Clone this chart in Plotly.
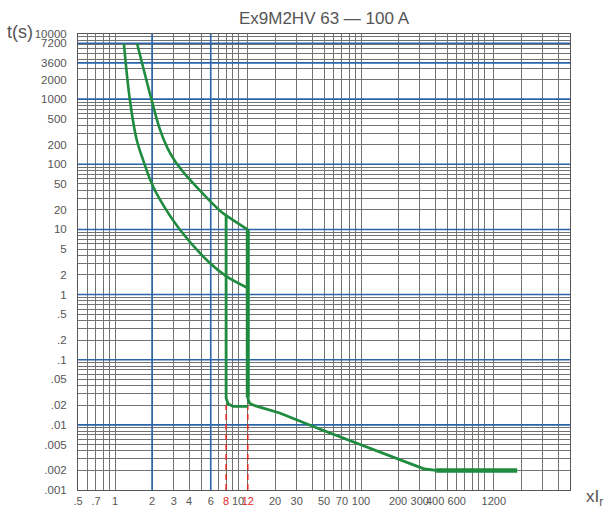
import math
import plotly.graph_objects as go

title_text = "Ex9M2HV 63 — 100 A"

# axis tick labels
x_tick_vals = [0.5, 0.7, 1, 2, 3, 4, 6, 8, 10, 12, 20, 30, 50, 70, 100, 200, 300, 400, 600, 1200]
x_tick_text = [".5", ".7", "1", "2", "3", "4", "6", "8", "10", "12", "20", "30", "50", "70",
               "100", "200", "300", "400", "600", "1200"]
x_red_labels = ["8", "12"]

y_tick_vals = [10000, 7200, 3600, 2000, 1000, 500, 200, 100, 50, 20, 10, 5, 2, 1,
               0.5, 0.2, 0.1, 0.05, 0.02, 0.01, 0.005, 0.002, 0.001]
y_tick_text = ["10000", "7200", "3600", "2000", "1000", "500", "200", "100", "50", "20", "10",
               "5", "2", "1", ".5", ".2", ".1", ".05", ".02", ".01", ".005", ".002", ".001"]

# emphasised (blue) grid lines
blue_y = [7200, 3600, 1000, 100, 10, 1, 0.1, 0.01]
blue_x = [2, 6]
x_limits = [0.5, 5000]
y_limits = [0.001, 10000]

# magnetic thresholds (red dashed markers)
mag_thresholds = [8, 12]
mag_marker_t = [0.001, 0.02]

# lower thermal curve (cold, min)
lower_x = [1.18, 1.32, 1.50, 1.69, 1.98, 2.32, 3.37, 5.9, 8.0, 12.0]
lower_t = [7200, 980, 238, 117, 51.6, 28.6, 9.9, 3.05, 1.92, 1.26]

# upper thermal curve (max)
upper_x = [1.51, 1.98, 2.32, 2.67, 3.07, 3.53, 4.06, 7.1, 8.0, 12.0]
upper_t = [7200, 980, 340, 177, 112, 79, 58, 19.5, 16.4, 9.9]

# magnetic release at 8 xIr
mag8_x = [8.0, 8.0, 8.3, 9.1, 12.0]
mag8_t = [16.4, 0.026, 0.021, 0.0192, 0.0192]

# magnetic release at 12 xIr
mag12_x = [12.0, 12.0]
mag12_t = [9.9, 0.026]

# instantaneous tail
tail_x = [12.0, 12.4, 13.7, 21.8, 46, 141, 328, 408]
tail_t = [0.026, 0.0215, 0.0197, 0.0152, 0.00863, 0.0039, 0.0021, 0.002]
flat_x = [408, 1860]
flat_t = [0.002, 0.002]

GREEN = "#1f8b3f"
GRID = "#737373"
BLUE = "#2a64aa"
RED = "#e0281e"
TXT = "#555555"

fig = go.Figure()

# blue emphasis grid lines (drawn first, under the curves)
for yv in blue_y:
    fig.add_trace(go.Scatter(x=x_limits, y=[yv, yv], mode="lines",
                             line=dict(color=BLUE, width=1.6),
                             showlegend=False, hoverinfo="skip", cliponaxis=True))
for xv in blue_x:
    fig.add_trace(go.Scatter(x=[xv, xv], y=y_limits, mode="lines",
                             line=dict(color=BLUE, width=1.6),
                             showlegend=False, hoverinfo="skip", cliponaxis=True))

for xv in mag_thresholds:
    fig.add_trace(go.Scatter(x=[xv, xv], y=mag_marker_t, mode="lines",
                             line=dict(color=RED, width=1.5, dash="6px,4px"),
                             showlegend=False, hoverinfo="skip"))

for xs, ts, w, shp in [
    (lower_x, lower_t, 2.6, "spline"),
    (upper_x, upper_t, 2.6, "spline"),
    (mag8_x, mag8_t, 2.8, "linear"),
    (mag12_x, mag12_t, 4.0, "linear"),
    (tail_x, tail_t, 2.8, "linear"),
    (flat_x, flat_t, 4.5, "linear"),
]:
    fig.add_trace(go.Scatter(x=xs, y=ts, mode="lines",
                             line=dict(color=GREEN, width=w, shape=shp),
                             showlegend=False, hoverinfo="skip"))

x_text = [f'<span style="color:{RED}">{t}</span>' if t in x_red_labels else t for t in x_tick_text]

fig.update_layout(
    width=604, height=512,
    margin=dict(l=78, r=34, t=34, b=22, autoexpand=False),
    paper_bgcolor="white", plot_bgcolor="white",
    font=dict(family="Liberation Sans, Arial, sans-serif", color=TXT, size=12),
    title=dict(text=title_text, xref="paper", x=0.5, xanchor="center",
               yref="container", y=1 - 18 / 512, yanchor="middle",
               font=dict(size=17, color=TXT)),
    xaxis=dict(type="log", range=[math.log10(x_limits[0]), math.log10(x_limits[1])],
               tickvals=x_tick_vals, ticktext=x_text, ticks="", tickangle=0,
               automargin=False,
               showgrid=True, gridcolor=GRID, gridwidth=1,
               minor=dict(dtick="D1", showgrid=True, gridcolor=GRID, gridwidth=1, ticks=""),
               showline=True, linecolor="#555555", linewidth=1, mirror=True,
               tickfont=dict(size=11, color=TXT), ticklabelstandoff=1, zeroline=False),
    yaxis=dict(type="log", range=[math.log10(y_limits[0]), math.log10(y_limits[1])],
               tickvals=y_tick_vals, ticktext=y_tick_text, ticks="",
               automargin=False,
               showgrid=True, gridcolor=GRID, gridwidth=1,
               minor=dict(dtick="D1", showgrid=True, gridcolor=GRID, gridwidth=1, ticks=""),
               showline=True, linecolor="#555555", linewidth=1, mirror=True,
               tickfont=dict(size=11.5, color=TXT), ticklabelstandoff=8, zeroline=False),
    annotations=[
        dict(text="t(s)", xref="paper", yref="paper", x=-0.118, y=1.004,
             xanchor="center", yanchor="middle", showarrow=False,
             font=dict(size=18, color=TXT)),
        dict(text="xI<sub>r</sub>", xref="paper", yref="paper", x=1.049, y=-0.017,
             xanchor="center", yanchor="middle", showarrow=False,
             font=dict(size=17, color=TXT)),
    ],
)

fig.write_html("out.html")
